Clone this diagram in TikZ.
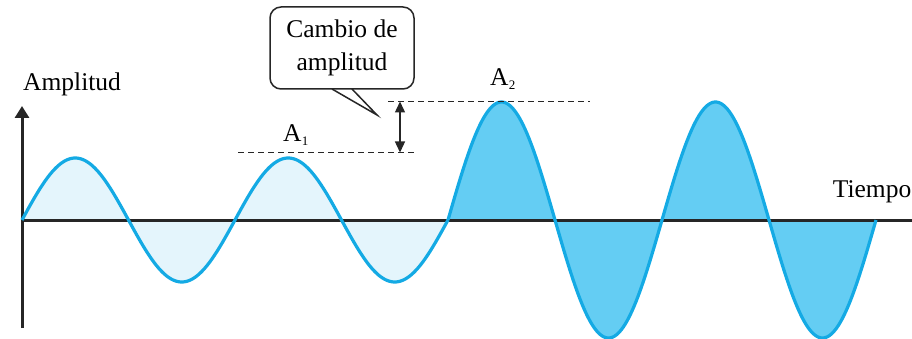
\documentclass[tikz,border=0pt]{standalone}
\usepackage{fontspec}
\setmainfont{Liberation Serif}
\usetikzlibrary{arrows.meta}
\definecolor{waveline}{RGB}{20,170,228}
\definecolor{lightfill}{RGB}{228,245,252}
\definecolor{darkfill}{RGB}{100,205,243}
\tikzset{
  axisline/.style={line width=3pt, black!85},
  waveplot/.style={line width=3.2pt, waveline, line join=round},
  dashline/.style={line width=1.3pt, dash pattern=on 5.5pt off 4.5pt, black!85},
  lbl/.style={font=\fontsize{25.5}{31}\selectfont, inner sep=0pt, text=black},
  callbox/.style={draw=black!85, line width=1.5pt, fill=white, rounded corners=11pt,
    minimum width=144pt, minimum height=82pt, inner sep=0pt, align=center,
    font=\fontsize{25.5}{33}\selectfont}
}
\begin{document}
\begin{tikzpicture}[x=1pt,y=-1pt]
\useasboundingbox (0,0) rectangle (912,339);
% fills
\fill[lightfill] (22,220) -- plot[domain=0:426, samples=240] ({22+\x},{220-62*sin(\x*1.690141)}) -- (448,220) -- cycle;
\fill[darkfill] (448,220) -- plot[domain=0:428, samples=240] ({448+\x},{220-118*sin(\x*1.682243)}) -- (876,220) -- cycle;
% axes
\coordinate (o) at (22,220);
\coordinate (ybot) at (22,328);
\coordinate (ytop) at (22,106);
\coordinate (xend) at (912,220);
\draw[axisline] (o) -- (xend);
\draw[axisline, -{Triangle[length=12pt,width=14pt]}] (ybot) -- (ytop);
% curves
\draw[waveplot] plot[domain=0:426, samples=240] ({22+\x},{220-62*sin(\x*1.690141)});
\draw[waveplot] plot[domain=0:428, samples=240] ({448+\x},{220-118*sin(\x*1.682243)});
\node[lbl, anchor=base west] (amp) at (23,91) {Amplitud};
\node[lbl, anchor=base east] (tie) at (911.5,197) {Tiempo};
% dashed amplitude lines
\coordinate (d1a) at (238,152.5);
\coordinate (d1b) at (415,152.5);
\coordinate (d2a) at (388,101.5);
\coordinate (d2b) at (590,101.5);
\draw[dashline] (d1a) -- (d1b);
\draw[dashline] (d2a) -- (d2b);
\coordinate (arT) at (400,101.5);
\coordinate (arB) at (400,152.5);
\draw[line width=1.4pt, black!85, {Triangle[length=11pt,width=10pt]}-{Triangle[length=11pt,width=10pt]}] (arT) -- (arB);
\node[lbl, anchor=base west] (a1) at (283,142) {A\kern0.3pt\raisebox{-4pt}{\fontsize{13}{13}\selectfont 1}};
\node[lbl, anchor=base west] (a2) at (490,86) {A\kern0.3pt\raisebox{-4pt}{\fontsize{13}{13}\selectfont 2}};
% callout
\node[callbox] (call) at (342,48) {Cambio de\\amplitud};
\coordinate (tip) at (377,115);
\coordinate (p1) at (332,89);
\coordinate (p2) at (352,89);
\fill[white] ([yshift=-1.5pt]p1) -- (tip) -- ([yshift=-1.5pt]p2) -- cycle;
\draw[black!85, line width=1.5pt, line join=miter] (p1) -- (tip) -- (p2);
\end{tikzpicture}
\end{document}
